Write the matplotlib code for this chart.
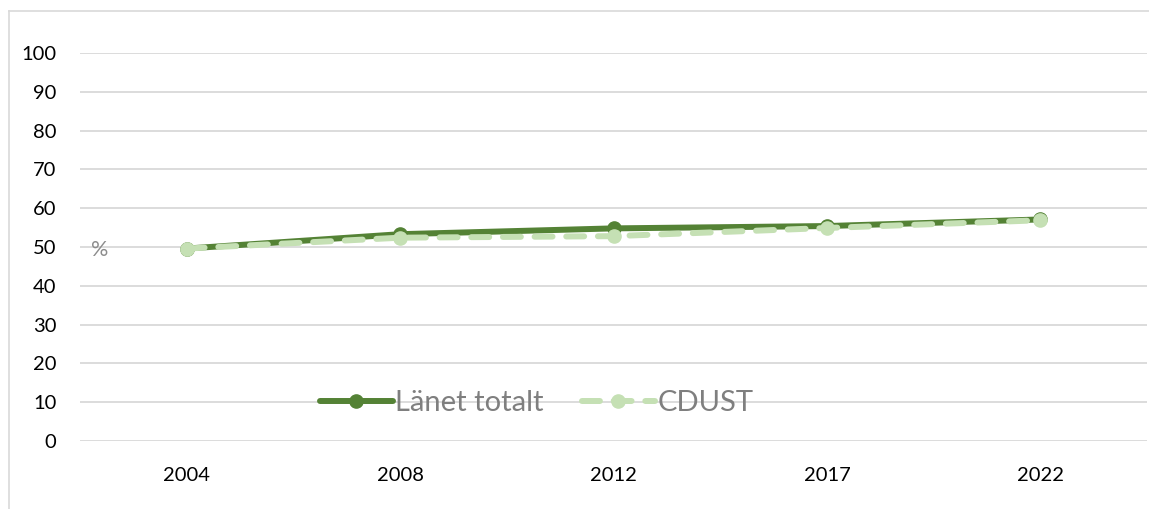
import matplotlib.pyplot as plt
from matplotlib.lines import Line2D

years = ["2004", "2008", "2012", "2017", "2022"]
lanet_totalt = [49.6, 53.3, 54.8, 55.4, 57.1]
cdust = [49.6, 52.4, 52.8, 54.9, 56.9]

plt.rcParams["font.family"] = ["Lato", "DejaVu Sans"]

fig = plt.figure(figsize=(11.49, 5.09), dpi=100)
ax = fig.add_axes([80 / 1149, 1 - 441 / 509, 1067 / 1149, 388 / 509])

x = list(range(len(years)))
ax.plot(x, lanet_totalt, color="#548235", lw=4.3, marker="o", ms=9.5,
        solid_capstyle="round", label="Länet totalt", zorder=3)
ax.plot(x, cdust, color="#C5E0B4", lw=4.3, marker="o", ms=9.5,
        dashes=(3, 2.3), dash_capstyle="round", label="CDUST", zorder=4)

ax.set_xlim(-0.5, len(years) - 0.5)
ax.set_ylim(0, 100)
ax.set_yticks(range(0, 101, 10))
ax.set_xticks(x)
ax.set_xticklabels(years)
ax.tick_params(length=0, labelsize=14.5, colors="black")
ax.tick_params(axis="y", pad=17)
ax.tick_params(axis="x", pad=19)
ax.grid(axis="y", color="#d9d9d9", lw=1.3)
ax.set_axisbelow(True)
for s in ax.spines.values():
    s.set_visible(False)

ax.text(0.01, 49.2, "%", color="#8c8c8c", fontsize=15.5, va="center", ha="left",
        transform=ax.get_yaxis_transform())

leg = ax.legend(loc="center", bbox_to_anchor=(0.428, 0.098), ncol=2, frameon=False,
                fontsize=21, handlelength=2.5, handletextpad=0.1, columnspacing=1.3,
                borderpad=0)
for t in leg.get_texts():
    t.set_color("#7f7f7f")

# outer chart border (left and top visible)
fig.add_artist(Line2D([9 / 1149, 9 / 1149], [0, 1 - 11 / 509], color="#d9d9d9", lw=1.2))
fig.add_artist(Line2D([9 / 1149, 1], [1 - 11 / 509, 1 - 11 / 509], color="#d9d9d9", lw=1.2))

fig.savefig("out.png", dpi=100)
